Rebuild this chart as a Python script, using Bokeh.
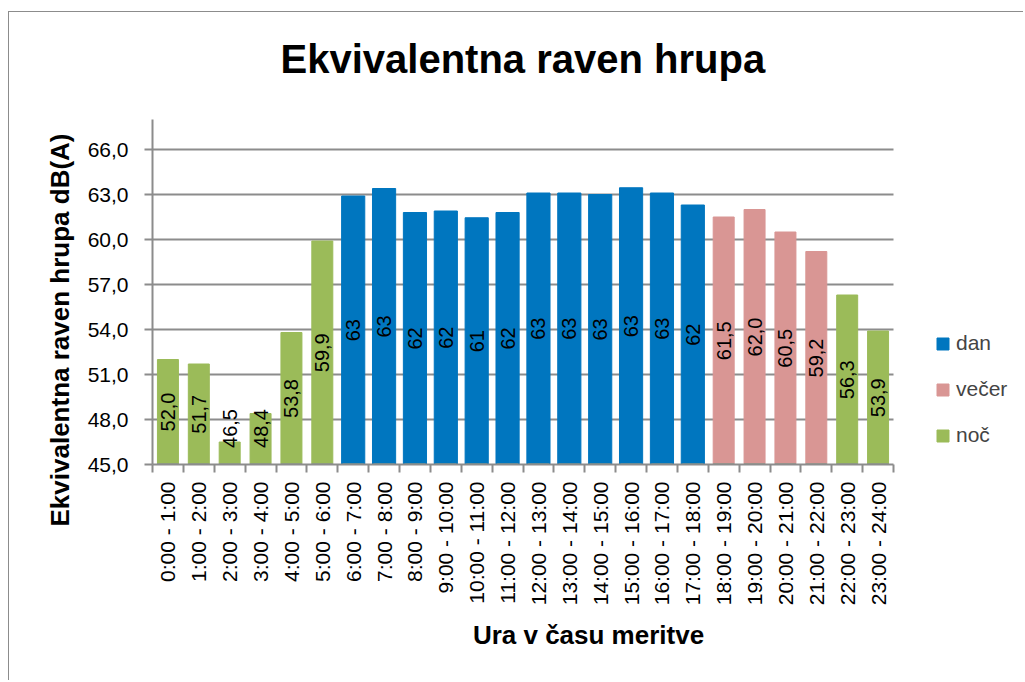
from bokeh.plotting import figure
from bokeh.models import (Range1d, FixedTicker, Legend, LegendItem, ColumnDataSource, Title)
from bokeh.core.properties import value
from bokeh.embed import file_html
from bokeh.resources import INLINE
import math

# ---- data ----
categories = ["0:00 - 1:00", "1:00 - 2:00", "2:00 - 3:00", "3:00 - 4:00", "4:00 - 5:00",
              "5:00 - 6:00", "6:00 - 7:00", "7:00 - 8:00", "8:00 - 9:00", "9:00 - 10:00",
              "10:00 - 11:00", "11:00 - 12:00", "12:00 - 13:00", "13:00 - 14:00",
              "14:00 - 15:00", "15:00 - 16:00", "16:00 - 17:00", "17:00 - 18:00",
              "18:00 - 19:00", "19:00 - 20:00", "20:00 - 21:00", "21:00 - 22:00",
              "22:00 - 23:00", "23:00 - 24:00"]
dan = [0, 0, 0, 0, 0, 0, 62.9, 63.4, 61.8, 61.9, 61.45, 61.8, 63.1, 63.1, 63.0, 63.45,
       63.1, 62.3, 0, 0, 0, 0, 0, 0]
vecer = [0, 0, 0, 0, 0, 0, 0, 0, 0, 0, 0, 0, 0, 0, 0, 0, 0, 0, 61.5, 62.0, 60.5, 59.2, 0, 0]
noc = [52.0, 51.7, 46.5, 48.4, 53.8, 59.9, 0, 0, 0, 0, 0, 0, 0, 0, 0, 0, 0, 0, 0, 0, 0, 0,
       56.3, 53.9]
y_ticks = [45, 48, 51, 54, 57, 60, 63, 66]
y_min, y_max = 45, 68

FONT = "'Liberation Sans', Arial, sans-serif"
COL_DAN = "#0076BF"
COL_VEC = "#D99694"
COL_NOC = "#9BBB59"
GRID = "#8c8c8c"

# layout: the frame reaches the right edge so that the legend can sit inside it;
# the axis and the grid lines stop at the last category.
W, H = 1015, 669
LEFT, TOP, BOTTOM = 143, 107, 217
PLOT_W = 741                       # width taken by the 24 categories
FRAME_W = W - LEFT
n = len(categories)
x_end = -0.5 + n * FRAME_W / PLOT_W

p = figure(width=W, height=H, output_backend="svg", toolbar_location=None,
           title=None,
           x_range=Range1d(-0.5, x_end), y_range=Range1d(y_min, y_max),
           min_border_left=LEFT, min_border_right=0, min_border_top=TOP,
           min_border_bottom=BOTTOM)
p.styles = {"border-left": "1px solid #8c8c8c", "border-top": "1px solid #8c8c8c",
            "margin-left": "8px", "margin-top": "11px"}
p.outline_line_color = None
p.xgrid.visible = False
p.ygrid.grid_line_color = GRID
p.ygrid.grid_line_width = 2
p.ygrid.cross_bounds = (-0.5, n - 0.5)

# title (a thin empty spacer title keeps it away from the plot area)
p.add_layout(Title(text=" ", text_font_size="1px", standoff=34), "above")
p.add_layout(Title(text="Ekvivalentna raven hrupa", align="left", offset=128,
                   vertical_align="top",
                   text_font=FONT, text_font_size="40px", text_font_style="bold",
                   text_color="black", standoff=0), "above")

# axes
xa = p.xaxis[0]
xa.bounds = (-0.5, n - 0.5)
xa.ticker = FixedTicker(ticks=list(range(n)),
                        minor_ticks=[i - 0.5 for i in range(n + 1)])
xa.major_label_overrides = {i: c for i, c in enumerate(categories)}
xa.major_label_orientation = math.pi / 2
xa.major_tick_out = 0
xa.major_tick_in = 0
xa.minor_tick_out = 8
xa.minor_tick_in = 0
xa.minor_tick_line_color = GRID
xa.minor_tick_line_width = 2
xa.axis_line_color = GRID
xa.axis_line_width = 2
xa.major_label_text_font = FONT
xa.major_label_text_font_size = "21px"
xa.major_label_text_color = "black"
xa.major_label_standoff = 9
xa.axis_label = "Ura v času meritve"
xa.axis_label_text_font = FONT
xa.axis_label_text_font_size = "26px"
xa.axis_label_text_font_style = "bold"
xa.axis_label_text_color = "black"
xa.axis_label_standoff = 12

ya = p.yaxis[0]
ya.ticker = FixedTicker(ticks=y_ticks, minor_ticks=[])
ya.major_label_overrides = {t: ("%.1f" % t).replace(".", ",") for t in y_ticks}
ya.major_tick_out = 8
ya.major_tick_in = 0
ya.major_tick_line_color = GRID
ya.major_tick_line_width = 2
ya.axis_line_color = GRID
ya.axis_line_width = 2
ya.major_label_text_font = FONT
ya.major_label_text_font_size = "21px"
ya.major_label_text_color = "black"
ya.major_label_standoff = 16

ytitle = Title(text="Ekvivalentna raven hrupa dB(A)", align="left", offset=-62,
               text_font=FONT, text_font_size="26px", text_font_style="bold",
               text_color="black", standoff=20)
p.add_layout(ytitle, "left")

# bars
series = [("dan", dan, COL_DAN, 0.75, "%.0f"),
          ("večer", vecer, COL_VEC, 0.68, "%.1f"),
          ("noč", noc, COL_NOC, 0.68, "%.1f")]
renderers = []
label_x, label_y, label_t = [], [], []
for name, vals, col, w, fmt in series:
    xs = [i for i, v in enumerate(vals) if v > 0]
    tops = [v for v in vals if v > 0]
    src = ColumnDataSource(dict(x=xs, top=tops))
    r = p.vbar(x="x", top="top", bottom=y_min, width=w, source=src,
               fill_color=col, line_color=col, line_width=1)
    renderers.append((name, r))
    for x, v in zip(xs, tops):
        label_x.append(x)
        # data labels sit in the middle of the bar, but never closer than
        # ~2.4 units to the axis (they are kept inside the plot area)
        label_y.append(max((y_min + v) / 2, y_min + 2.4))
        label_t.append((fmt % v).replace(".", ","))

# zero-valued series segments drawn as thin lines at the baseline
for name, vals, col, w, fmt in series:
    zx = [i for i, v in enumerate(vals) if v == 0]
    p.vbar(x=zx, top=y_min, bottom=y_min, width=0.68, fill_alpha=0,
           line_color=col, line_width=1.5)

p.text(x=label_x, y=label_y, text=label_t, angle=math.pi / 2,
       text_align="center", text_baseline="middle", text_font=value(FONT),
       text_font_size="20px", text_color="black")

legend = Legend(items=[LegendItem(label=nm, renderers=[r]) for nm, r in renderers],
                location=(PLOT_W + 42, 17), orientation="vertical",
                glyph_width=15, glyph_height=15, label_standoff=6,
                spacing=22, padding=0, margin=0,
                label_text_font=FONT, label_text_font_size="21px",
                border_line_color=None, background_fill_alpha=0)
p.add_layout(legend, "center")

open("out.html", "w").write(file_html(p, INLINE))
